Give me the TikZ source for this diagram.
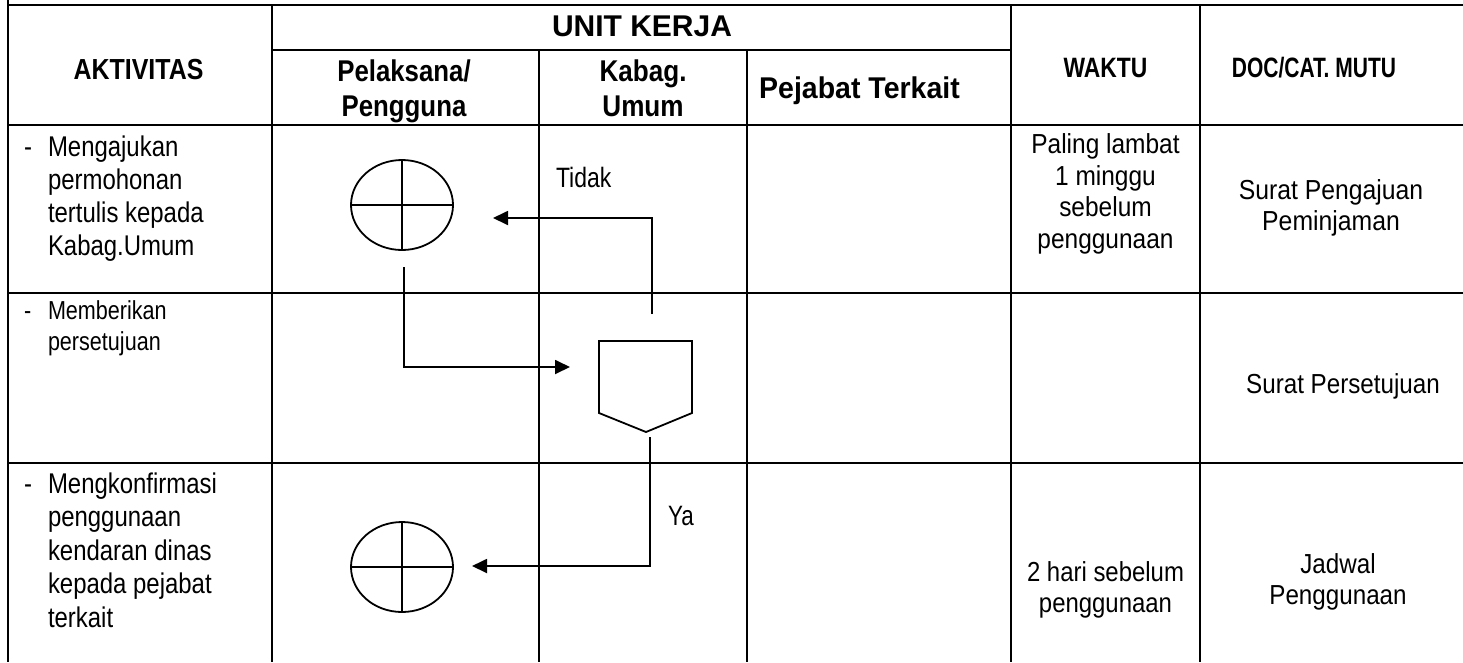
\documentclass[tikz,border=0pt]{standalone}
\usepackage{fontspec}
\usepackage{graphicx}
\setmainfont{Liberation Sans}
\usetikzlibrary{arrows.meta,shapes.geometric}
\newcommand\fs[2]{\fontsize{#1}{#2}\selectfont}
\newcommand\hs[2]{\scalebox{#1}[1]{#2}}
\newcommand\lines[2]{\begin{tabular}[t]{@{}#1@{}}#2\end{tabular}}
\begin{document}
\begin{tikzpicture}[x=1pt,y=-1pt,
  grid/.style={line width=2.6pt},
  shp/.style={draw, line width=1.8pt},
  conn/.style={line width=1.8pt},
  arr/.style={conn, -{Triangle[length=15pt,width=14pt]}},
  txt/.style={inner sep=0pt, outer sep=0pt},
  body/.style={txt, font=\fs{28.5}{33.3}},
  bodys/.style={txt, font=\fs{26}{31}},
  side/.style={txt, font=\fs{27.5}{31.7}},
  hdr/.style={txt, font=\bfseries\fs{30}{34.3}},
  lbl/.style={txt, font=\fs{28}{30}}
]
\useasboundingbox (0,0) rectangle (1463,662);
% ---------- grid ----------
\draw[grid] (8,0) -- (8,662);
\draw[grid] (8,5) -- (1463,5);
\draw[grid] (272,5) -- (272,662);
\draw[grid] (539,50) -- (539,662);
\draw[grid] (747,50) -- (747,662);
\draw[grid] (1011,5) -- (1011,662);
\draw[grid] (1200,5) -- (1200,662);
\draw[grid] (272,50) -- (1011,50);
\draw[grid] (8,125) -- (1463,125);
\draw[grid] (8,293) -- (1463,293);
\draw[grid] (8,463) -- (1463,463);
% ---------- headers ----------
\node[hdr, anchor=base] (unit) at (642,36.7) {UNIT KERJA};
\node[hdr, font=\bfseries\fs{29}{30}, anchor=base] (akt) at (138.5,79) {\hs{0.86}{AKTIVITAS}};
\node[hdr, anchor=base] (pel) at (404,81.7) {\hs{0.86}{\lines{c}{Pelaksana/\\Pengguna}}};
\node[hdr, anchor=base] (kab) at (643,81.7) {\hs{0.87}{\lines{c}{Kabag.\\Umum}}};
\node[hdr, anchor=base] (pej) at (859.5,98) {\hs{0.95}{Pejabat Terkait}};
\node[hdr, font=\bfseries\fs{28}{30}, anchor=base] (wak) at (1105.5,77) {\hs{0.816}{WAKTU}};
\node[hdr, font=\bfseries\fs{28}{30}, anchor=base] (doc) at (1314,77) {\hs{0.75}{DOC/CAT. MUTU}};
% ---------- activity column ----------
\node[body, anchor=base west] (d1) at (24,156) {\hs{0.84}{-}};
\node[body, anchor=base west] (a1) at (48,156)
  {\hs{0.84}{\lines{l}{Mengajukan\\permohonan\\tertulis kepada\\Kabag.Umum}}};
\node[bodys, anchor=base west] (d2) at (24,319) {\hs{0.83}{-}};
\node[bodys, anchor=base west] (a2) at (48,319)
  {\hs{0.83}{\lines{l}{Memberikan\\persetujuan}}};
\node[body, font=\fs{28.5}{33.5}, anchor=base west] (d3) at (24,493) {\hs{0.84}{-}};
\node[body, font=\fs{28.5}{33.5}, anchor=base west] (a3) at (48,493)
  {\hs{0.84}{\lines{l}{Mengkonfirmasi\\penggunaan\\kendaran dinas\\kepada pejabat\\terkait}}};
% ---------- waktu / doc ----------
\node[side, anchor=base] (w1) at (1105.5,153.3)
  {\hs{0.89}{\lines{c}{Paling lambat\\1 minggu\\sebelum\\penggunaan}}};
\node[side, font=\fs{27.5}{31}, anchor=base] (c1) at (1331,199)
  {\hs{0.9}{\lines{c}{Surat Pengajuan\\Peminjaman}}};
\node[side, anchor=base] (c2) at (1343,393) {\hs{0.88}{Surat Persetujuan}};
\node[side, font=\fs{27.5}{31}, anchor=base] (w3) at (1105.5,581)
  {\hs{0.87}{\lines{c}{2 hari sebelum\\penggunaan}}};
\node[side, font=\fs{27.5}{31}, anchor=base] (c3) at (1338,573)
  {\hs{0.88}{\lines{c}{Jadwal\\Penggunaan}}};
% ---------- flow shapes ----------
\node[shp, ellipse, minimum width=102pt, minimum height=90pt, inner sep=0pt] (e1) at (402,205) {};
\draw[conn] (e1.north) -- (e1.south) (e1.west) -- (e1.east);
\node[shp, ellipse, minimum width=102pt, minimum height=90pt, inner sep=0pt] (e2) at (402,567) {};
\draw[conn] (e2.north) -- (e2.south) (e2.west) -- (e2.east);
\draw[shp, line join=miter] (599,341) coordinate (pTL) -- (692,341) coordinate (pTR)
  -- (692,413) -- (646,432) coordinate (pTip) -- (599,413) -- cycle;
% ---------- connectors ----------
\coordinate (s1) at (652,314);
\coordinate (t1) at (493,218);
\coordinate (s2) at (404,267);
\coordinate (t2) at (570,367);
\coordinate (s3) at (650,437);
\coordinate (t3) at (472,566);
\draw[arr] (s1) |- (t1);
\draw[arr] (s2) |- (t2);
\draw[arr] (s3) |- (t3);
\node[lbl, anchor=base west] (tidak) at (556,187) {\hs{0.82}{Tidak}};
\node[lbl, anchor=base west] (ya) at (668,525) {\hs{0.8}{Ya}};
\end{tikzpicture}
\end{document}
